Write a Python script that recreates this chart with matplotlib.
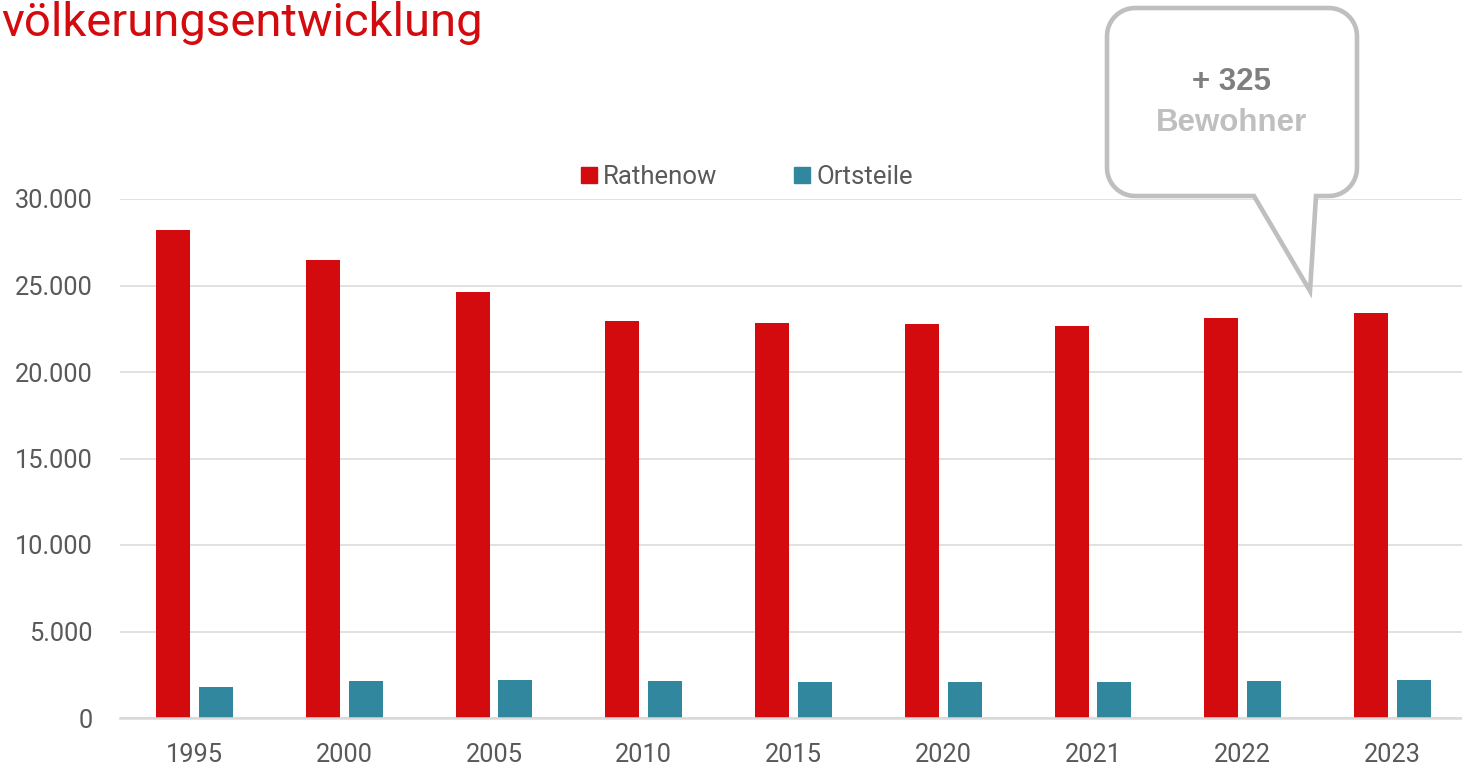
import matplotlib
matplotlib.use("Agg")
import matplotlib.pyplot as plt
from matplotlib.patches import Patch, PathPatch
from matplotlib.path import Path
from matplotlib.ticker import FuncFormatter, MultipleLocator
import numpy as np

years = ["1995", "2000", "2005", "2010", "2015", "2020", "2021", "2022", "2023"]
rathenow = [28200, 26480, 24620, 22950, 22830, 22770, 22660, 23120, 23410]
ortsteile = [1810, 2160, 2200, 2160, 2060, 2080, 2100, 2140, 2200]
series_names = ["Rathenow", "Ortsteile"]
title = "völkerungsentwicklung"
callout_lines = ["+ 325", "Bewohner"]

RED = "#D30A0E"
BLUE = "#31879E"
GRID = "#D9D9D9"
TXT = "#595959"

plt.rcParams["font.family"] = ["Roboto", "DejaVu Sans"]

W, H = 1462, 769
fig = plt.figure(figsize=(W / 100, H / 100), dpi=100)

def px(x0, y0, x1, y1):
    return [x0 / W, 1 - y1 / H, (x1 - x0) / W, (y1 - y0) / H]

ax = fig.add_axes(px(119.5, 199, 1467.5, 718))
x = np.arange(len(years))
bw = 0.227
off = 0.143
ax.bar(x - off, rathenow, width=bw, color=RED, label=series_names[0], zorder=3)
ax.bar(x + off, ortsteile, width=bw, color=BLUE, label=series_names[1], zorder=3)

ax.set_xlim(-0.5, len(years) - 0.5)
ax.set_ylim(0, 30000)
ax.yaxis.set_major_locator(MultipleLocator(5000))
ax.yaxis.set_major_formatter(FuncFormatter(lambda v, p: f"{v:,.0f}".replace(",", ".")))
ax.set_xticks(x)
ax.set_xticklabels(years)
ax.tick_params(axis="both", length=0, labelsize=18.3, labelcolor=TXT)
ax.tick_params(axis="y", pad=19)
ax.tick_params(axis="x", pad=18)
ax.grid(axis="y", color=GRID, linewidth=1.1, zorder=0)
for s in ["top", "right", "left"]:
    ax.spines[s].set_visible(False)
ax.spines["bottom"].set_color(GRID)
ax.spines["bottom"].set_linewidth(1.8)
ax.spines["bottom"].set_zorder(4)

handles = [Patch(color=RED), Patch(color=BLUE)]
leg = fig.legend(handles, series_names, loc="center", bbox_to_anchor=(747 / W, 1 - 177 / H),
                 ncol=2, frameon=False, fontsize=18.5, labelcolor=TXT,
                 handlelength=0.6, handleheight=0.6, handletextpad=0.24,
                 columnspacing=3.0, borderpad=0, borderaxespad=0)

fig.text(1 / W, 1 - 36 / H, title, ha="left", va="baseline",
         fontsize=34, color="#D40B0E")

# callout overlay in pixel coordinates
ov = fig.add_axes([0, 0, 1, 1], zorder=10)
ov.set_xlim(0, W)
ov.set_ylim(H, 0)
ov.axis("off")
ov.patch.set_alpha(0)

L, R, T, B, r = 1107, 1357, 8, 196, 28
def arc(cx, cy, a0, a1, n=12):
    t = np.radians(np.linspace(a0, a1, n))
    return [(cx + r * np.cos(t_), cy + r * np.sin(t_)) for t_ in t]

pts = [(1254, B), (L + r, B)]
pts += arc(L + r, B - r, 90, 180)
pts += [(L, T + r)]
pts += arc(L + r, T + r, 180, 270)
pts += [(R - r, T)]
pts += arc(R - r, T + r, 270, 360)
pts += [(R, B - r)]
pts += arc(R - r, B - r, 0, 90)
pts += [(1316, B), (1310, 291), (1254, B)]
codes = [Path.MOVETO] + [Path.LINETO] * (len(pts) - 2) + [Path.CLOSEPOLY]
ov.add_patch(PathPatch(Path(pts, codes), facecolor="white", edgecolor="#BFBFBF",
                       linewidth=3.3, joinstyle="miter"))
ov.text(1232, 82, callout_lines[0], ha="center", va="center", fontsize=22.5,
        fontweight="bold", color="#7F7F7F", family=["Liberation Sans", "DejaVu Sans"])
ov.text(1232, 123, callout_lines[1], ha="center", va="center", fontsize=22.5,
        fontweight="bold", color="#BFBFBF", family=["Liberation Sans", "DejaVu Sans"])

fig.savefig("out.png", dpi=100)
